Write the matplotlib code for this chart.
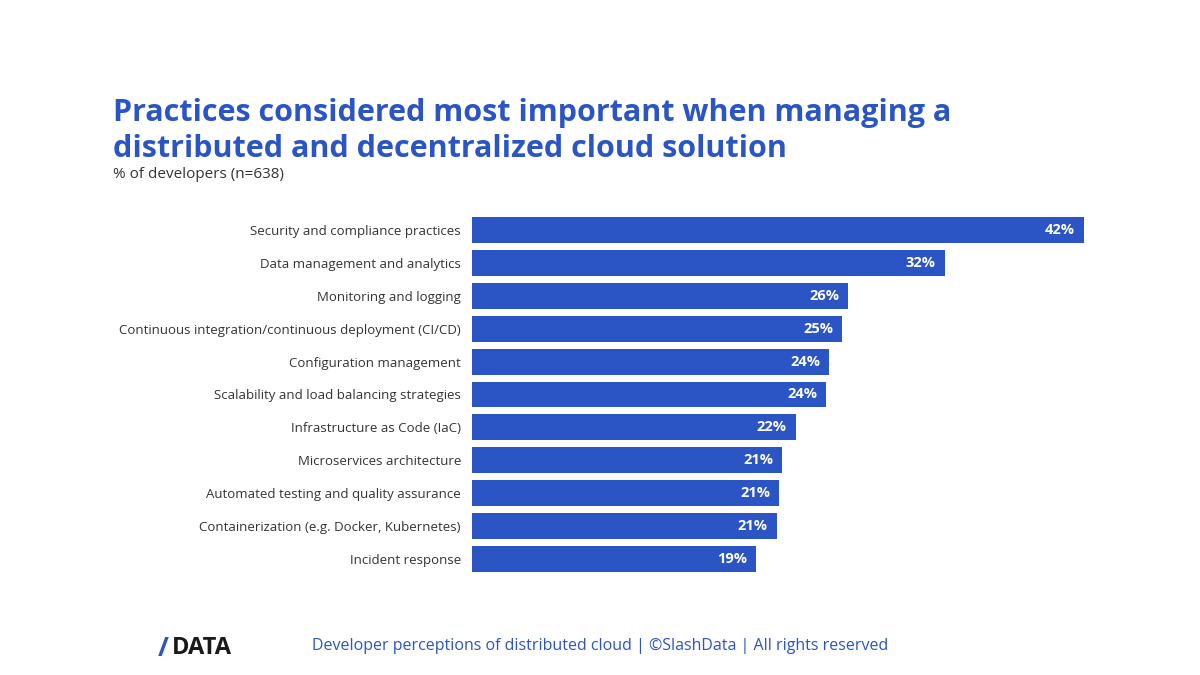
import matplotlib
matplotlib.use("Agg")
import matplotlib.pyplot as plt
import numpy as np

# datos (% de desarrolladores)
practicas = [
    "Security and compliance practices",
    "Data management and analytics",
    "Monitoring and logging",
    "Continuous integration/continuous deployment (CI/CD)",
    "Configuration management",
    "Scalability and load balancing strategies",
    "Infrastructure as Code (IaC)",
    "Microservices architecture",
    "Automated testing and quality assurance",
    "Containerization (e.g. Docker, Kubernetes)",
    "Incident response",
]
valores = [41.8, 32.3, 25.7, 25.3, 24.4, 24.2, 22.1, 21.2, 21.0, 20.8, 19.4]
etiquetas = ["42%", "32%", "26%", "25%", "24%", "24%", "22%", "21%", "21%", "21%", "19%"]

AZUL = "#2B55C4"
FUENTE = ["Open Sans", "DejaVu Sans"]

plt.rcParams["font.family"] = FUENTE

fig = plt.figure(figsize=(12, 6.75), dpi=100)
fig.patch.set_facecolor("white")

# ejes ubicados en pixeles del original (1200x675)
left, right = 472 / 1200, 1084 / 1200
top_px, bot_px = 213.5, 575.5
ax = fig.add_axes([left, 1 - bot_px / 675, right - left, (bot_px - top_px) / 675])

y = np.arange(len(practicas))
ax.barh(y, valores, height=0.79, color=AZUL)
ax.set_xlim(0, valores[0])
ax.set_ylim(len(practicas) - 0.5, -0.5)
ax.set_yticks(y)
ax.set_yticklabels(practicas, fontsize=9.5, color="#333333")
ax.tick_params(axis="y", length=0, pad=8)
ax.set_xticks([])
for s in ax.spines.values():
    s.set_visible(False)

for yi, v, t in zip(y, valores, etiquetas):
    ax.annotate(t, (v, yi), xytext=(-6.5, 0), textcoords="offset points",
                ha="right", va="center", color="white", fontsize=10.5,
                fontweight="bold")

# titulo (dos lineas), subtitulo y pie
fig.text(113 / 1200, 1 - 121 / 675,
         "Practices considered most important when managing a",
         fontsize=22, fontweight="bold", color=AZUL, ha="left", va="baseline")
fig.text(113 / 1200, 1 - 157 / 675,
         "distributed and decentralized cloud solution",
         fontsize=22, fontweight="bold", color=AZUL, ha="left", va="baseline")
fig.text(113 / 1200, 1 - 178 / 675, "% of developers (n=638)",
         fontsize=11, color="#333333", ha="left", va="baseline")

fig.text(600 / 1200, 1 - 646 / 675,
         "Developer perceptions of distributed cloud | \u00a9SlashData | All rights reserved",
         fontsize=11.5, color=AZUL, ha="center", va="center")
fig.text(158 / 1200, 1 - 648 / 675, "/", fontsize=19, fontweight="bold",
         color=AZUL, ha="left", va="center")
fig.text(172 / 1200, 1 - 648 / 675, "DATA", fontsize=17, fontweight="bold",
         color="#1a1a1a", ha="left", va="center")

fig.savefig("out.png", dpi=100, facecolor="white")
